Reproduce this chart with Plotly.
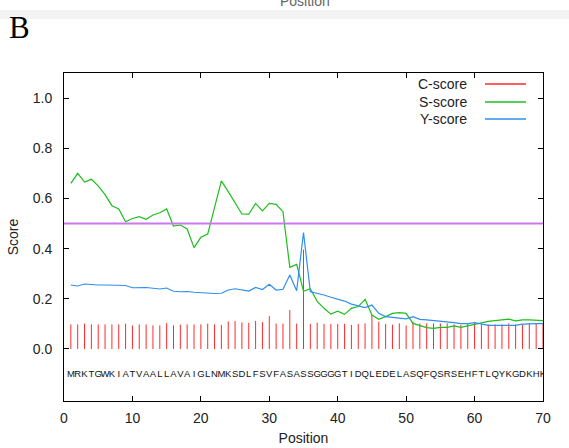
import plotly.graph_objects as go

# ---------------- data ----------------
SEQUENCE = "MRKTGWKIATVAALLAVAIGLNMKSDLFSVFASASSGGGGTIDQLEDELASQFQSRSEHFTLQYKGDKHK"
POSITIONS = list(range(1, 71))

C_SCORE = [0.098, 0.098, 0.101, 0.098, 0.098, 0.098, 0.098, 0.098, 0.101, 0.094,
           0.098, 0.098, 0.094, 0.094, 0.103, 0.094, 0.097, 0.098, 0.098, 0.098,
           0.101, 0.098, 0.096, 0.110, 0.112, 0.106, 0.104, 0.112, 0.107, 0.131,
           0.101, 0.101, 0.155, 0.101, 0.396, 0.100, 0.105, 0.100, 0.100, 0.100,
           0.100, 0.096, 0.100, 0.102, 0.136, 0.109, 0.100, 0.097, 0.102, 0.094,
           0.109, 0.102, 0.102, 0.102, 0.102, 0.102, 0.098, 0.096, 0.102, 0.105,
           0.098, 0.098, 0.098, 0.098, 0.102, 0.098, 0.098, 0.102, 0.102, 0.100]

S_SCORE = [0.660, 0.700, 0.665, 0.676, 0.650, 0.615, 0.571, 0.558, 0.507, 0.520,
           0.527, 0.517, 0.534, 0.543, 0.558, 0.490, 0.494, 0.478, 0.404, 0.445,
           0.458, 0.570, 0.670, 0.627, 0.580, 0.538, 0.537, 0.580, 0.550, 0.580,
           0.576, 0.547, 0.325, 0.337, 0.230, 0.240, 0.190, 0.162, 0.139, 0.151,
           0.138, 0.162, 0.169, 0.198, 0.135, 0.118, 0.129, 0.142, 0.145, 0.142,
           0.102, 0.092, 0.085, 0.082, 0.086, 0.086, 0.092, 0.086, 0.092, 0.096,
           0.102, 0.110, 0.113, 0.116, 0.119, 0.112, 0.116, 0.116, 0.113, 0.113]

Y_SCORE = [0.255, 0.251, 0.259, 0.256, 0.255, 0.255, 0.255, 0.253, 0.253, 0.244,
           0.245, 0.245, 0.242, 0.239, 0.243, 0.230, 0.228, 0.229, 0.226, 0.224,
           0.225, 0.221, 0.222, 0.235, 0.240, 0.235, 0.231, 0.245, 0.237, 0.258,
           0.235, 0.238, 0.295, 0.232, 0.464, 0.228, 0.222, 0.215, 0.206, 0.199,
           0.191, 0.179, 0.171, 0.165, 0.175, 0.142, 0.129, 0.125, 0.123, 0.120,
           0.129, 0.118, 0.116, 0.113, 0.112, 0.110, 0.105, 0.101, 0.101, 0.105,
           0.099, 0.094, 0.094, 0.094, 0.094, 0.094, 0.099, 0.101, 0.101, 0.101]

CUTOFF = 0.5
X_TICKS = [0, 10, 20, 30, 40, 50, 60, 70]
Y_TICKS = [0.0, 0.2, 0.4, 0.6, 0.8, 1.0]
LEGEND_NAMES = ["C-score", "S-score", "Y-score"]

# ---------------- style ----------------
RED = "#ff2a2a"
GREEN = "#1cbf1c"
BLUE = "#2f8ff0"
PURPLE = "#cc77ee"
TXT = "#222222"
SEQ_LEVEL = -0.104

W, H = 569, 448
ML, MR, MT, MB = 64, 26, 73, 47
PW, PH = W - ML - MR, H - MT - MB

def px(xp):
    return (xp - ML) / PW

def py(yp):
    return (H - MB - yp) / PH

fig = go.Figure()

# C-score impulses
cx, cy = [], []
for p, c in zip(POSITIONS, C_SCORE):
    cx += [p, p, None]
    cy += [0, c, None]
fig.add_trace(go.Scatter(x=cx, y=cy, mode="lines", line=dict(color=RED, width=1),
                         name=LEGEND_NAMES[0], showlegend=False, hoverinfo="skip"))

fig.add_hline(y=CUTOFF, line=dict(color=PURPLE, width=2))

fig.add_trace(go.Scatter(x=POSITIONS, y=S_SCORE, mode="lines",
                         line=dict(color=GREEN, width=1.2), name=LEGEND_NAMES[1], showlegend=False))
fig.add_trace(go.Scatter(x=POSITIONS, y=Y_SCORE, mode="lines",
                         line=dict(color=BLUE, width=1.2), name=LEGEND_NAMES[2], showlegend=False))

fig.add_trace(go.Scatter(x=POSITIONS, y=[SEQ_LEVEL] * len(POSITIONS), mode="text",
                         text=list(SEQUENCE), cliponaxis=True,
                         textfont=dict(family="Liberation Sans, Arial, sans-serif", size=9.5, color="#111"),
                         showlegend=False, hoverinfo="skip"))

# manual legend (text left, sample line right)
legend_cols = [RED, GREEN, BLUE]
legend_rows = [84, 102, 119]
for name, col, yr in zip(LEGEND_NAMES, legend_cols, legend_rows):
    fig.add_annotation(x=px(469), y=py(yr), xref="paper", yref="paper", text=name,
                       showarrow=False, xanchor="right", yanchor="middle",
                       font=dict(family="Liberation Sans, Arial, sans-serif", size=14, color=TXT))
    fig.add_shape(type="line", xref="paper", yref="paper", x0=px(485), x1=px(526),
                  y0=py(yr), y1=py(yr), line=dict(color=col, width=1.5))

# top grey strip and cut-off text from the panel above
fig.add_shape(type="rect", xref="paper", yref="paper", x0=px(0), x1=px(W),
              y0=py(19), y1=py(10), fillcolor="#f3f3f3", line=dict(width=0), layer="below")
fig.add_annotation(x=px(305), y=py(1), xref="paper", yref="paper", text="Position",
                   showarrow=False, xanchor="center", yanchor="middle",
                   font=dict(family="Liberation Sans, Arial, sans-serif", size=14, color="#666"))
fig.add_annotation(x=px(19), y=py(27), xref="paper", yref="paper", text="B",
                   showarrow=False, xanchor="center", yanchor="middle",
                   font=dict(family="Liberation Serif, Times New Roman, serif", size=31, color="#000"))

axis_common = dict(showline=True, linecolor="#000", linewidth=1, mirror="allticks",
                   ticks="inside", ticklen=5, tickcolor="#000", showgrid=False, zeroline=False,
                   tickfont=dict(family="Liberation Sans, Arial, sans-serif", size=14, color=TXT))

fig.update_xaxes(range=[0, 70], tickvals=X_TICKS, ticklabelstandoff=4,
                 title=dict(text="Position", standoff=8,
                            font=dict(family="Liberation Sans, Arial, sans-serif", size=14, color=TXT)),
                 **axis_common)
fig.update_yaxes(range=[-0.2072, 1.0996], tickvals=Y_TICKS, tickformat=".1f", ticklabelstandoff=8,
                 title=dict(text="Score", standoff=10,
                            font=dict(family="Liberation Sans, Arial, sans-serif", size=14, color=TXT)),
                 **axis_common)

fig.update_layout(width=W, height=H, margin=dict(l=ML, r=MR, t=MT, b=MB, autoexpand=False),
                  plot_bgcolor="white", paper_bgcolor="white", showlegend=False)

fig.write_html("out.html")
